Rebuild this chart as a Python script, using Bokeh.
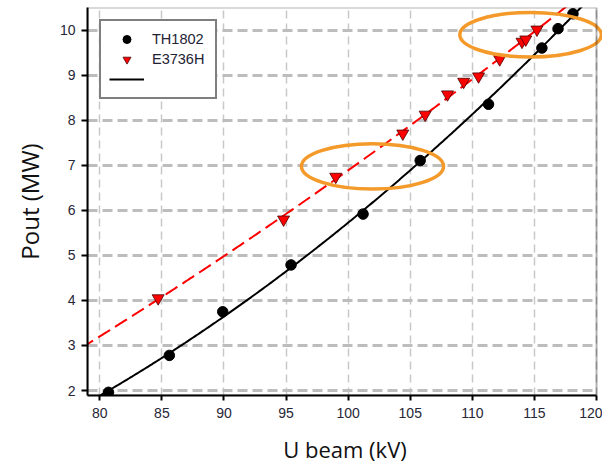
import numpy as np
from bokeh.plotting import figure
from bokeh.models import Range1d, FixedTicker, Legend, LegendItem, BoxAnnotation, Grid
from bokeh.core.properties import value
from bokeh.embed import file_html
from bokeh.resources import INLINE

# ---- data ----
th1802_u = [80.7, 85.6, 89.9, 95.4, 101.2, 105.8, 111.3, 115.6, 116.9, 118.1]
th1802_p = [1.96, 2.78, 3.75, 4.79, 5.92, 7.11, 8.36, 9.61, 10.04, 10.37]

e3736h_u = [84.7, 94.8, 99.0, 104.4, 106.2, 108.0, 109.3, 110.5, 112.2, 114.0, 114.3, 115.2]
e3736h_p = [4.05, 5.80, 6.75, 7.71, 8.13, 8.58, 8.86, 8.98, 9.36, 9.75, 9.80, 10.02]

series_names = ["TH1802", "E3736H"]
x_ticks = [80, 85, 90, 95, 100, 105, 110, 115, 120]
y_ticks = [2, 3, 4, 5, 6, 7, 8, 9, 10]

# highlighted regions (orange ellipses): centre U (kV), centre P (MW), width (kV), height (MW)
mark_u = [101.96, 114.69]
mark_p = [6.98, 9.905]
mark_w = [11.45, 11.4]
mark_h = [1.01, 0.99]

X_START, X_END, X_AXIS_END = 79.01, 120.48, 120
Y_START, Y_END = 1.889, 10.510

# least-squares fit curves of each series
th_coef = np.polyfit(th1802_u, th1802_p, 2)
e_coef = np.polyfit(e3736h_u, e3736h_p, 2)
u_fit = np.linspace(78.5, 121.0, 300)
th_fit = np.polyval(th_coef, u_fit)
e_fit = np.polyval(e_coef, u_fit)

p = figure(width=602, height=466,
           x_range=Range1d(X_START, X_END), y_range=Range1d(Y_START, Y_END),
           output_backend="svg", toolbar_location=None,
           min_border_left=87, min_border_right=0, min_border_top=7, min_border_bottom=70,
           background_fill_color="white", border_fill_color="white")
p.outline_line_color = None

r_thfit = p.line(u_fit, th_fit, line_color="black", line_width=2)
r_efit = p.line(u_fit, e_fit, line_color="#ff0000", line_width=2, line_dash="14 6")
r_th = p.scatter(th1802_u, th1802_p, marker="circle", size=10.5,
                 fill_color="black", line_color="black")
r_e = p.scatter(e3736h_u, e3736h_p, marker="inverted_triangle", size=12,
                fill_color="#ff0000", line_color="#4a0000", line_width=0.8)
p.ellipse(x=mark_u, y=mark_p, width=mark_w, height=mark_h,
          fill_color=None, line_color="#f39a2b", line_width=3.5)

# axes
for ax in (p.xaxis[0], p.yaxis[0]):
    ax.axis_line_color = "black"
    ax.axis_line_width = 2
    ax.major_tick_line_color = "black"
    ax.major_tick_line_width = 2
    ax.major_tick_in = 0
    ax.minor_tick_line_color = None
    ax.major_label_text_font = "Liberation Sans"
    ax.major_label_text_font_size = "14px"
    ax.major_label_text_color = "#262636"
    ax.axis_label_text_font = "Open Sans"
    ax.axis_label_text_font_style = "normal"
    ax.axis_label_text_color = "#111111"

p.xaxis.axis_label_text_font_size = "22px"
p.yaxis.axis_label_text_font_size = "24px"
p.xaxis.ticker = FixedTicker(ticks=x_ticks)
p.yaxis.ticker = FixedTicker(ticks=y_ticks)
p.xaxis.bounds = (X_START, X_AXIS_END)
p.xaxis.major_tick_out = 5
p.yaxis.major_tick_out = 6
p.xaxis.major_label_standoff = 7
p.yaxis.major_label_standoff = 6
p.xaxis.axis_label = "U beam (kV)"
p.yaxis.axis_label = "Pout (MW)"
p.xaxis.axis_label_standoff = 13
p.yaxis.axis_label_standoff = 11

# grids
p.xgrid.ticker = FixedTicker(ticks=x_ticks)
p.ygrid.ticker = FixedTicker(ticks=y_ticks)
p.xgrid.grid_line_color = "#c8c8c8"
p.xgrid.grid_line_width = 1.5
p.xgrid.grid_line_dash = "8 5"
p.ygrid.grid_line_color = "#bdbdbd"
p.ygrid.grid_line_width = 3
p.ygrid.grid_line_dash = "10 5"
if "cross_bounds" in Grid.properties():
    p.ygrid.cross_bounds = (X_START, X_AXIS_END)
else:
    p.add_layout(BoxAnnotation(left=X_AXIS_END, fill_color="white", fill_alpha=1,
                               line_color=None, level="underlay"))

# frame border (top / right) ending at U = 120
p.add_layout(BoxAnnotation(left=X_START, right=X_AXIS_END, bottom=Y_START, top=Y_END,
                           fill_color=None, fill_alpha=0, line_color="black", line_width=2))

legend = Legend(items=[LegendItem(label=value(series_names[0]), renderers=[r_th]),
                       LegendItem(label=value(series_names[1]), renderers=[r_e]),
                       LegendItem(label=value(" "), renderers=[r_thfit])],
                location="top_left", margin=12, padding=8, spacing=0,
                glyph_width=35, glyph_height=20, label_height=20, label_standoff=8,
                label_width=55,
                label_text_font="Liberation Sans", label_text_font_size="14.5px",
                label_text_color="#222233",
                border_line_color="black", border_line_width=2.5,
                background_fill_color="white", background_fill_alpha=1)
p.add_layout(legend)

open("out.html", "w").write(file_html(p, INLINE))
